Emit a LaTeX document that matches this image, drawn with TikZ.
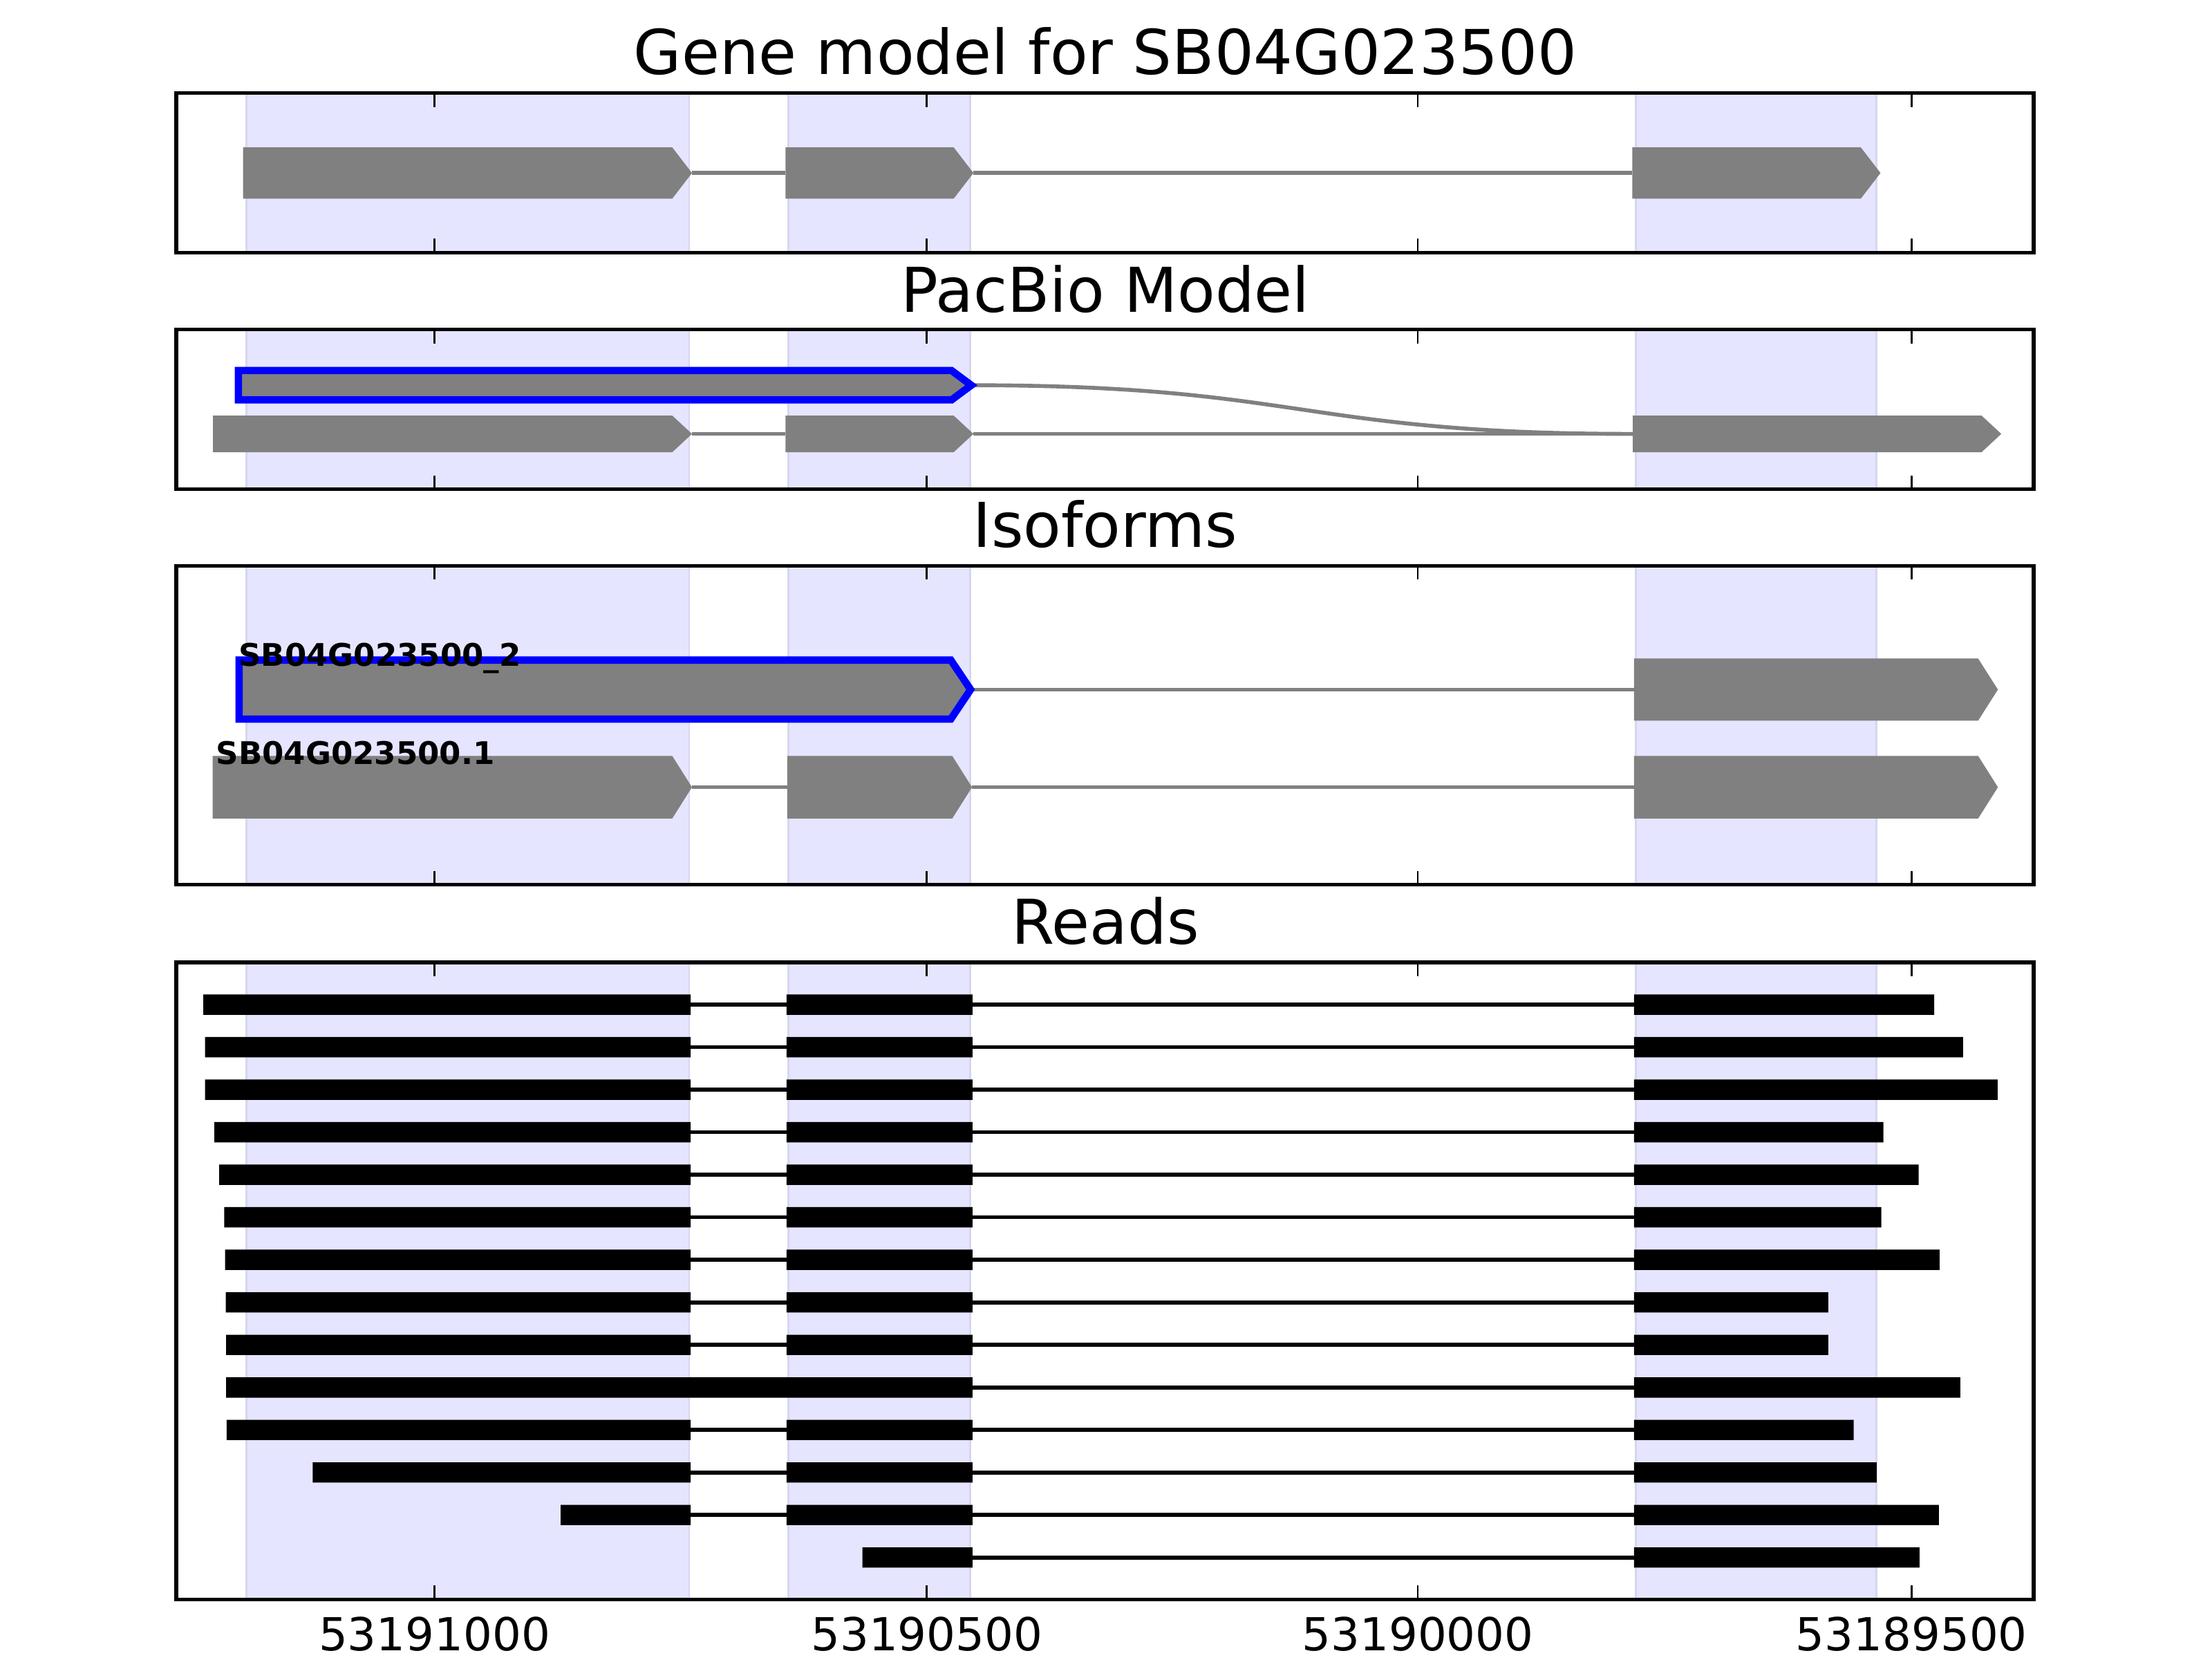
\documentclass[tikz,border=0pt]{standalone}
\usepackage{fontspec}
\setmainfont{DejaVu Sans}
\usepackage{tikz}
\usetikzlibrary{positioning}
\newcommand{\exonbox}[5][]{\path[exon,#1] (#2,#4-#5) -- (#3-14,#4-#5) -- (#3,#4) -- (#3-14,#4+#5) -- (#2,#4+#5) -- cycle;}

\begin{document}
\begin{tikzpicture}[x=0.0102cm, y=-0.0102cm, frame/.style={draw=black, line width=0.75pt}, band/.style={fill=blue!10, draw={rgb,255:red,214;green,214;blue,240}, line width=0.4pt}, exon/.style={fill=gray, draw=none}, picked/.style={draw=blue, line width=1.5pt, miter limit=4}, intron/.style={draw=gray, line width=0.8pt}, readline/.style={draw=black, line width=0.8pt}, readbar/.style={fill=black}, tick/.style={draw=black, line width=0.4pt}, ttl/.style={font=\fontsize{12.7}{15}\selectfont, anchor=base, inner sep=0pt}, ticklab/.style={font=\fontsize{9.35}{11}\selectfont, anchor=base, inner sep=0pt}, isolab/.style={font=\fontsize{6.4}{8}\selectfont\bfseries, anchor=base west, inner sep=0pt}]
\path[use as bounding box, fill=white] (0,0) rectangle (1568,1176);
\foreach \top/\bot in {66/179, 233.6/346.8, 401/627, 682/1133.4}
  \foreach \xa/\xb in {174.5/488.5, 559/687.5, 1159.5/1330.2}
    \path[band] (\xa,\top) rectangle (\xb,\bot);
\node[ttl] (genettl) at (783.5,52.8) {Gene model for SB04G023500};
\node[ttl] (pacttl) at (783.5,221) {PacBio Model};
\node[ttl] (isottl) at (783.5,388) {Isoforms};
\node[ttl] (readttl) at (783.5,669) {Reads};
\draw[intron] (490.5,122.6) -- (556.8,122.6) (690,122.6) -- (1157,122.6);
\exonbox{172.3}{490.5}{122.6}{18.2}
\exonbox{556.8}{690}{122.6}{18.2}
\exonbox{1157}{1333}{122.6}{18.2}
\draw[intron] (688.5,273) .. controls (923,273) and (923,307.5) .. (1157.4,307.5);
\draw[intron] (490.5,307.5) -- (556.8,307.5) (690,307.5) -- (1157,307.5);
\exonbox[picked]{169}{688.5}{273}{10.4}
\exonbox{151}{490.5}{307.5}{13}
\exonbox{556.8}{690}{307.5}{13}
\exonbox{1157.4}{1418.6}{307.5}{13}
\draw[intron] (688,488.7) -- (1158.3,488.7);
\draw[intron] (490.5,557.9) -- (558,557.9) (689,557.9) -- (1158.3,557.9);
\exonbox[picked]{169.5}{688}{488.7}{20.9}
\exonbox{1158.3}{1416.2}{488.7}{22}
\exonbox{150.7}{490.5}{557.9}{22.2}
\exonbox{558}{689}{557.9}{22.2}
\exonbox{1158.3}{1416.2}{557.9}{22.2}
\node[isolab] (iso2) at (168.5,472) {SB04G023500\_2};
\node[isolab] (iso1) at (152.6,541.5) {SB04G023500.1};
\foreach \i/\l/\r [evaluate=\i as \yc using 712+30.14*(\i-1)] in {1/144.1/1371, 2/145.4/1391.5, 3/145.4/1416, 4/152/1335, 5/155.4/1360, 6/158.9/1333.6, 7/159.5/1374.8, 8/160/1296, 9/160.3/1296, 11/160.7/1314, 12/221.6/1330.2, 13/397.5/1374.3} {
  \draw[readline] (489.5,\yc) -- (557.6,\yc) (689.3,\yc) -- (1158.3,\yc);
  \path[readbar] (\l,\yc-7.2) rectangle (489.5,\yc+7.2) (557.6,\yc-7.2) rectangle (689.3,\yc+7.2) (1158.3,\yc-7.2) rectangle (\r,\yc+7.2);
}
\draw[readline] (689.3,983.3) -- (1158.3,983.3);
\path[readbar] (160.3,976.1) rectangle (689.3,990.5) (1158.3,976.1) rectangle (1389.5,990.5);
\draw[readline] (689.3,1103.8) -- (1158.3,1103.8);
\path[readbar] (611.3,1096.6) rectangle (689.3,1111) (1158.3,1096.6) rectangle (1360.6,1111);
\foreach \top/\bot in {66/179, 233.6/346.8, 401/627, 682/1133.4} {
  \foreach \x in {308, 657, 1005, 1355}
    \draw[tick] (\x,\top) -- (\x,\top+9.8) (\x,\bot) -- (\x,\bot-9.8);
  \draw[frame] (125,\top) rectangle (1441.5,\bot);
}
\foreach \x/\lab in {308/53191000, 657/53190500, 1005/53190000, 1355/53189500}
  \node[ticklab] at (\x,1169.8) {\lab};
\end{tikzpicture}
\end{document}
